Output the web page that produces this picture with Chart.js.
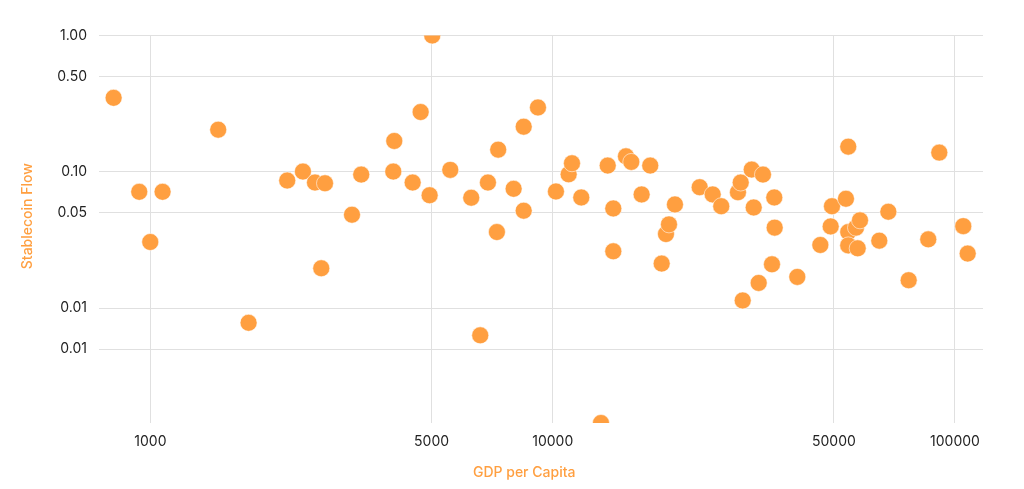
<!DOCTYPE html>
<html>
<head>
<meta charset="utf-8">
<script src="https://cdn.jsdelivr.net/npm/chart.js@4"></script>
<style>
  html, body { margin: 0; padding: 0; background: #fff; }
  #wrap { width: 1024px; height: 489px; position: relative; }
</style>
</head>
<body>
<div id="wrap"><canvas id="flowChart"></canvas></div>
<script>
// GDP per capita (x) and stablecoin flow (y), one entry per country
const gdpPerCapita = [
  810, 938, 1072, 999, 1474, 1754, 2188, 2394, 2565, 2716,
  2659, 3170, 3342, 4038, 4015, 4486, 4696, 4944, 5018, 5564,
  6273, 6605, 6902, 7320, 7266, 7996, 8470, 9191, 8470, 10187,
  10956, 11166, 11777, 13183, 13701, 14145, 14145, 15211, 15680, 16637,
  17477, 18660, 19124, 19455, 20131, 23195, 24987, 26242, 28875, 29333,
  29669, 31242, 33320, 31597, 32510, 35082, 35546, 35628, 40553, 46272,
  49094, 49457, 53580, 54284, 54284, 54284, 56749, 58060, 57300, 64840,
  68290, 76720, 85820, 91410, 104860, 107550
];
const stablecoinFlow = [
  0.349, 0.0714, 0.0714, 0.0306, 0.2038, 0.00782, 0.0864, 0.1005, 0.0835, 0.0825,
  0.01964, 0.0485, 0.0955, 0.1685, 0.1005, 0.0835, 0.2747, 0.0674, 1.0, 0.1034,
  0.0646, 0.00633, 0.0835, 0.1455, 0.0362, 0.0751, 0.2144, 0.2967, 0.0519, 0.0718,
  0.096, 0.1156, 0.0649, 0.00144, 0.1112, 0.0539, 0.02616, 0.13, 0.1183, 0.0683,
  0.1112, 0.02125, 0.035, 0.0412, 0.0577, 0.0772, 0.0683, 0.056, 0.0709, 0.0835,
  0.0114, 0.1039, 0.0955, 0.0548, 0.01533, 0.021, 0.0649, 0.039, 0.01697, 0.0291,
  0.0398, 0.056, 0.0635, 0.1531, 0.0362, 0.0289, 0.039, 0.0441, 0.0275, 0.0313,
  0.051, 0.01605, 0.032, 0.1384, 0.04, 0.02516
];

const xTicks = [1000, 5000, 10000, 50000, 100000];
const yTicks = [1, 0.5, 0.1, 0.05, 0.01, 0.005];

const orange = 'rgb(255, 159, 64)';
const points = gdpPerCapita.map((x, i) => ({ x: x, y: stablecoinFlow[i] }));

// the titles sit a little off-centre in the original, nudge them with spaces
const pad = n => '\u00a0'.repeat(n);

const ctx = document.getElementById('flowChart').getContext('2d');
new Chart(ctx, {
  type: 'scatter',
  data: {
    datasets: [{
      label: 'Stablecoin Flow',
      data: points,
      backgroundColor: orange,
      borderColor: 'rgba(255, 255, 255, 0.55)',
      borderWidth: 1,
      pointRadius: 8.5,
      pointHoverRadius: 8.5
    }]
  },
  options: {
    responsive: true,
    maintainAspectRatio: false,
    animation: false,
    layout: { padding: { left: 10, right: 41, top: 35.5, bottom: 0 } },
    scales: {
      x: {
        type: 'logarithmic',
        min: 745,
        max: 117400,
        afterBuildTicks: function(scale) {
          scale.ticks = xTicks.map(v => ({ value: v }));
        },
        afterFit: function(scale) { scale.height = 66; },
        border: { display: false },
        grid: { color: '#e0e0e0', lineWidth: 1, drawTicks: false },
        ticks: {
          padding: 10,
          color: '#222',
          font: { family: 'Inter', size: 14 },
          maxRotation: 0,
          callback: function(value) { return String(value); }
        },
        title: {
          display: true,
          text: 'GDP per Capita' + pad(9),
          color: orange,
          font: { family: 'Inter', size: 14, weight: '500' },
          padding: { top: 0, bottom: 8 }
        }
      },
      y: {
        type: 'logarithmic',
        min: 0.00144,
        max: 1,
        afterBuildTicks: function(scale) {
          scale.ticks = yTicks.map(v => ({ value: v }));
        },
        afterFit: function(scale) { scale.width = 89; },
        border: { display: false },
        grid: { color: '#e0e0e0', lineWidth: 1, drawTicks: false },
        ticks: {
          padding: 12,
          color: '#222',
          font: { family: 'Inter', size: 14 },
          callback: function(value) { return Number(value).toFixed(2); }
        },
        title: {
          display: true,
          text: pad(7) + 'Stablecoin Flow',
          color: orange,
          font: { family: 'Inter', size: 14, weight: '500' },
          padding: { top: 9, bottom: 0 }
        }
      }
    },
    plugins: {
      legend: { display: false },
      tooltip: { enabled: true }
    }
  }
});
</script>
</body>
</html>
